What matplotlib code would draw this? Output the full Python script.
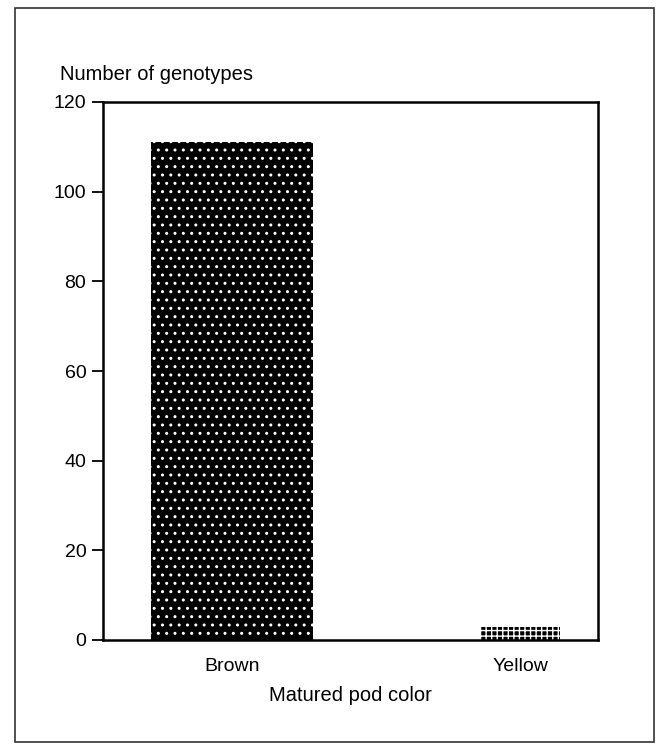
import matplotlib
matplotlib.use("Agg")
import matplotlib.pyplot as plt
from matplotlib.patches import Rectangle

plt.rcParams["font.family"] = ["Liberation Sans", "DejaVu Sans"]
plt.rcParams["hatch.linewidth"] = 1.0

categories = ["Brown", "Yellow"]
counts = [111, 3]
bar_widths = [0.56, 0.275]
yticks = [0, 20, 40, 60, 80, 100, 120]

fig = plt.figure(figsize=(6.56, 7.53), dpi=100)
# outer frame around the whole figure
fig.patches.append(Rectangle((15 / 656, 1 - 742 / 753), (654 - 15) / 656, (742 - 8) / 753,
                             transform=fig.transFigure, fill=False, edgecolor="#333333",
                             linewidth=1.2))

ax = fig.add_axes([103 / 656, 1 - 640 / 753, (598 - 103) / 656, (640 - 102) / 753])

x = list(range(len(categories)))
brown = ax.bar(x[0], counts[0], width=bar_widths[0], color="black", edgecolor="white",
               hatch="..", linewidth=0)
yellow = ax.bar(x[1], counts[1], width=bar_widths[1], color="black", edgecolor="white",
                hatch="+++", linewidth=0)

ax.set_xlim(-0.446, 1.268)
ax.set_ylim(0, 120)
ax.set_yticks(yticks)
ax.set_xticks(x)
ax.set_xticklabels(categories)
ax.tick_params(axis="y", direction="out", length=8, width=1.3, labelsize=14, pad=4)
ax.tick_params(axis="x", length=0, labelsize=14, pad=13)
for s in ax.spines.values():
    s.set_linewidth(1.8)

ax.set_xlabel("Matured pod color", fontsize=14.5, labelpad=8)
fig.text(60 / 656, 1 - 75 / 753, "Number of genotypes", fontsize=14.5, va="center", ha="left")

fig.savefig("out.png", dpi=100)
